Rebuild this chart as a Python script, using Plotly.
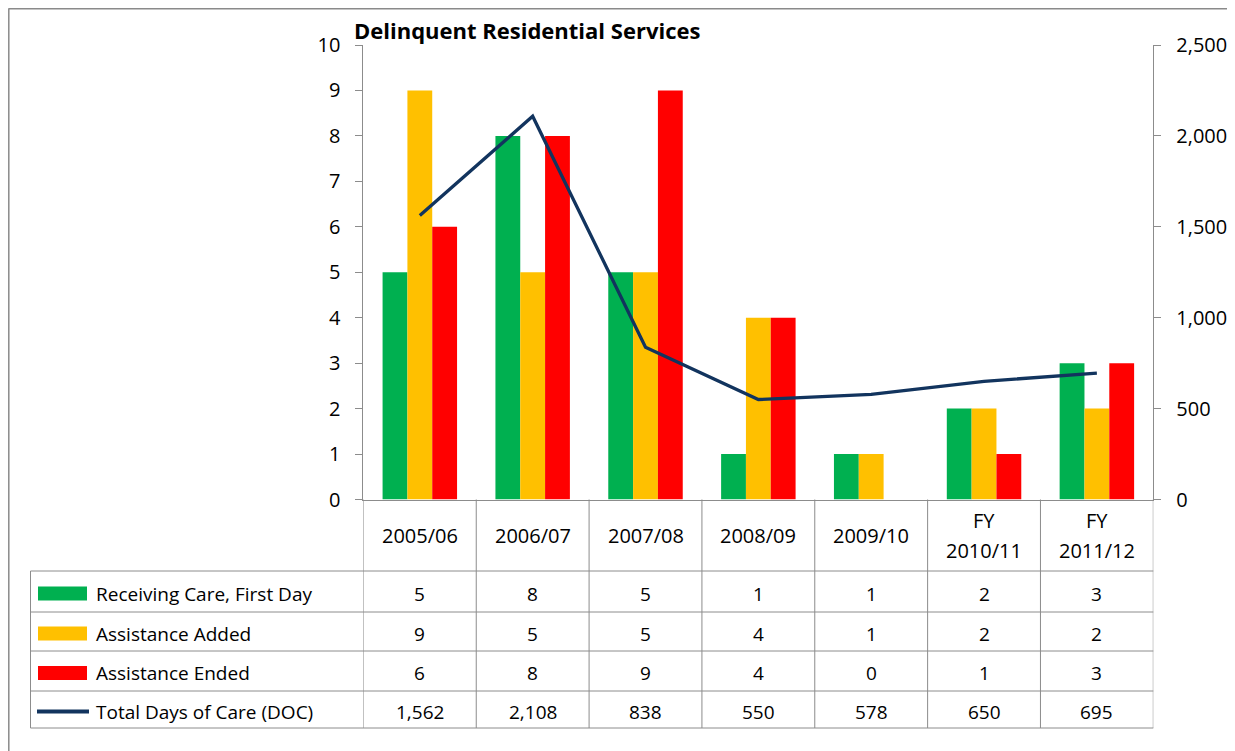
import plotly.graph_objects as go

# ---------------- data ----------------
categories = ["2005/06", "2006/07", "2007/08", "2008/09", "2009/10", "FY 2010/11", "FY 2011/12"]
receiving_care_first_day = [5, 8, 5, 1, 1, 2, 3]
assistance_added = [9, 5, 5, 4, 1, 2, 2]
assistance_ended = [6, 8, 9, 4, 0, 1, 3]
total_days_of_care = [1562, 2108, 838, 550, 578, 650, 695]

series_names = ["Receiving Care, First Day", "Assistance Added", "Assistance Ended", "Total Days of Care (DOC)"]
left_ticks = list(range(0, 11))
right_ticks = [0, 500, 1000, 1500, 2000, 2500]

title_text = "Delinquent Residential Services"

# ---------------- styling ----------------
PAGE_OFF = 8                     # default body margin of the page
W, H = 1235 - PAGE_OFF, 751 - PAGE_OFF
FONT = "Open Sans"
GREEN, YELLOW, RED, NAVY = "#00B050", "#FFC000", "#FF0000", "#12345E"
GRID = "#8C8C8C"
TXT = "#000000"


def X(px):
    """page pixel -> paper x"""
    return (px - PAGE_OFF) / W


def Y(py):
    """page pixel -> paper y"""
    return 1 - (py - PAGE_OFF) / H


plot_left, plot_right = 363.4, 1153.3
plot_top, plot_bottom = 45.0, 499.5

fig = go.Figure()
bar_cols = [GREEN, YELLOW, RED]
bar_data = [receiving_care_first_day, assistance_added, assistance_ended]
for name, vals, col in zip(series_names[:3], bar_data, bar_cols):
    fig.add_trace(go.Bar(x=categories, y=vals, name=name, marker=dict(color=col, line=dict(width=0)),
                         yaxis="y", showlegend=False))
fig.add_trace(go.Scatter(x=categories, y=total_days_of_care, name=series_names[3], mode="lines",
                         line=dict(color=NAVY, width=3.3), yaxis="y2", showlegend=False))

shapes = []
annotations = []

# outer frame (top, left, right edges; bottom lies outside the picture)
frame = dict(color="#8A8A8A", width=1.5)
shapes.append(dict(type="line", xref="paper", yref="paper", x0=X(8.5), x1=X(1232), y0=Y(8.8), y1=Y(8.8), line=frame))
shapes.append(dict(type="line", xref="paper", yref="paper", x0=X(8.8), x1=X(8.8), y0=Y(8.5), y1=0, line=frame))
shapes.append(dict(type="line", xref="paper", yref="paper", x0=X(1232), x1=X(1232), y0=Y(8.5), y1=0, line=frame))

# title
annotations.append(dict(text="<b>" + title_text + "</b>", xref="paper", yref="paper", x=X(352), y=Y(30),
                        xanchor="left", yanchor="middle", showarrow=False,
                        font=dict(family=FONT, size=22, color=TXT)))

# table geometry
row_lines = [571, 612, 651, 691, 728]
table_left = 30.5
n = len(categories)

for i in range(n + 1):
    shapes.append(dict(type="line", xref="x", yref="paper", x0=i - 0.5, x1=i - 0.5,
                       y0=Y(plot_bottom), y1=Y(row_lines[-1]), line=dict(color=GRID, width=1)))
shapes.append(dict(type="line", xref="paper", yref="paper", x0=X(table_left), x1=X(table_left),
                   y0=Y(row_lines[0]), y1=Y(row_lines[-1]), line=dict(color=GRID, width=1)))
for ry in row_lines:
    shapes.append(dict(type="line", xref="paper", yref="paper", x0=X(table_left), x1=X(plot_right),
                       y0=Y(ry), y1=Y(ry), line=dict(color=GRID, width=1)))

# header labels
header_center = 535
for i, c in enumerate(categories):
    parts = c.split(" ")
    offs = [0] if len(parts) == 1 else [-15, 15]
    for p, o in zip(parts, offs):
        annotations.append(dict(text=p, xref="x", yref="paper", x=i, y=Y(header_center + o),
                                xanchor="center", yanchor="middle", showarrow=False,
                                font=dict(family=FONT, size=20, color=TXT)))

# rows
row_values = [receiving_care_first_day, assistance_added, assistance_ended, total_days_of_care]
key_cols = [GREEN, YELLOW, RED, NAVY]
for r in range(4):
    yc = (row_lines[r] + row_lines[r + 1]) / 2 + 2
    if r < 3:
        shapes.append(dict(type="rect", xref="paper", yref="paper", x0=X(38), x1=X(87), y0=Y(yc + 7), y1=Y(yc - 7),
                           fillcolor=key_cols[r], line=dict(width=0)))
    else:
        shapes.append(dict(type="line", xref="paper", yref="paper", x0=X(37), x1=X(89), y0=Y(yc), y1=Y(yc),
                           line=dict(color=NAVY, width=4)))
    annotations.append(dict(text=series_names[r], xref="paper", yref="paper", x=X(94), y=Y(yc),
                            xanchor="left", yanchor="middle", showarrow=False,
                            font=dict(family=FONT, size=19, color=TXT)))
    for i, v in enumerate(row_values[r]):
        annotations.append(dict(text=f"{v:,}", xref="x", yref="paper", x=i, y=Y(yc), xanchor="center",
                                yanchor="middle", showarrow=False, font=dict(family=FONT, size=19, color=TXT)))

fig.update_layout(
    width=W, height=H,
    margin=dict(l=0, r=0, t=0, b=0, autoexpand=False),
    paper_bgcolor="white", plot_bgcolor="white",
    barmode="group", bargap=0.34, bargroupgap=0,
    font=dict(family=FONT, size=19, color=TXT),
    xaxis=dict(domain=[X(plot_left), X(plot_right)], type="category", range=[-0.5, n - 0.5],
               showticklabels=False, ticks="", showline=True, linecolor=GRID, linewidth=1,
               showgrid=False, zeroline=False, automargin=False),
    yaxis=dict(domain=[Y(plot_bottom), Y(plot_top)], range=[0, 10], tickvals=left_ticks,
               showline=True, linecolor=GRID, linewidth=1, ticks="outside", ticklen=7, tickcolor=GRID,
               showgrid=False, zeroline=False, ticklabelstandoff=11, automargin=False,
               tickfont=dict(family=FONT, size=20, color=TXT)),
    yaxis2=dict(overlaying="y", side="right", anchor="x", range=[0, 2500], tickvals=right_ticks,
                tickformat=",d", showline=True, linecolor=GRID, linewidth=1, ticks="outside", ticklen=7,
                tickcolor=GRID, showgrid=False, zeroline=False, ticklabelstandoff=11, automargin=False,
                tickfont=dict(family=FONT, size=20, color=TXT)),
    shapes=shapes,
    annotations=annotations,
)

fig.write_html("out.html")
